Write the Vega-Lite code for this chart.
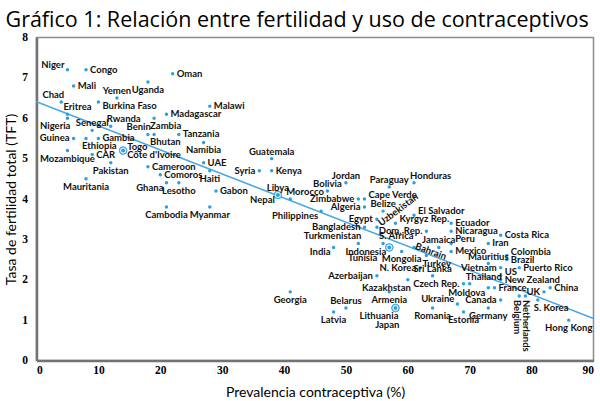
{
  "$schema": "https://vega.github.io/schema/vega-lite/v6.json",
  "autosize": "none",
  "width": 557,
  "height": 323,
  "padding": {"left": 36.5, "top": 37.5, "right": 6.5, "bottom": 40.5},
  "background": "white",
  "title": {
    "text": "Gráfico 1: Relación entre fertilidad y uso de contraceptivos",
    "anchor": "start",
    "frame": "group",
    "dx": -31,
    "dy": 30,
    "offset": 13,
    "baseline": "alphabetic",
    "font": "Open Sans",
    "fontSize": 21.5,
    "fontWeight": "normal",
    "color": "#000000"
  },
  "config": {
    "view": {"stroke": "#8c8c8c", "strokeWidth": 1.5},
    "axis": {
      "grid": false,
      "ticks": false,
      "domainColor": "#737373",
      "domainWidth": 2.5,
      "labelFont": "Liberation Serif",
      "labelFontWeight": "bold",
      "labelFontSize": 11.5,
      "labelColor": "#000000",
      "titleFont": "Lato",
      "titleFontSize": 14,
      "titleFontWeight": "normal",
      "titleColor": "#000000"
    },
    "text": {"font": "Lato", "fontWeight": "bold", "fontSize": 9.5, "color": "#111111", "baseline": "middle"}
  },
  "datasets": {
    "pts": [
      {"c": "Niger", "x": 5, "y": 7.2, "p": "lu"},
      {"c": "Congo", "x": 8, "y": 7.2, "p": "r"},
      {"c": "Oman", "x": 22, "y": 7.1, "p": "r"},
      {"c": "Uganda", "x": 18, "y": 6.9, "p": "b"},
      {"c": "Mali", "x": 6, "y": 6.8, "p": "r"},
      {"c": "Yemen", "x": 13, "y": 6.5, "p": "t"},
      {"c": "Chad", "x": 4, "y": 6.4, "p": "tl"},
      {"c": "Burkina Faso", "x": 10, "y": 6.4, "p": "rd"},
      {"c": "Malawi", "x": 28, "y": 6.3, "p": "r"},
      {"c": "Eritrea", "x": 5, "y": 6.1, "p": "tr"},
      {"c": "Nigeria", "x": 5, "y": 6.0, "p": "bl"},
      {"c": "Madagascar", "x": 21, "y": 6.1, "p": "r"},
      {"c": "Zambia", "x": 19, "y": 6.0, "p": "br"},
      {"c": "Rwanda", "x": 12, "y": 5.8, "p": "tr"},
      {"c": "Senegal", "x": 9, "y": 5.7, "p": "t"},
      {"c": "Benin", "x": 18, "y": 5.6, "p": "tl"},
      {"c": "Bhutan", "x": 19, "y": 5.6, "p": "br"},
      {"c": "Tanzania", "x": 23, "y": 5.6, "p": "r"},
      {"c": "Guinea", "x": 6, "y": 5.5, "p": "l"},
      {"c": "Ethiopia", "x": 8, "y": 5.5, "p": "br"},
      {"c": "Gambia", "x": 10, "y": 5.5, "p": "r"},
      {"c": "Namibia", "x": 27, "y": 5.4, "p": "b"},
      {"c": "Togo", "x": 14, "y": 5.2, "p": "ru"},
      {"c": "Côte d'Ivoire", "x": 14, "y": 5.2, "p": "rd"},
      {"c": "Mozambique", "x": 5, "y": 5.2, "p": "b"},
      {"c": "CAR", "x": 9, "y": 5.1, "p": "r"},
      {"c": "Guatemala", "x": 38, "y": 5.0, "p": "t"},
      {"c": "UAE", "x": 27, "y": 4.9, "p": "r"},
      {"c": "Pakistan", "x": 12, "y": 4.9, "p": "b"},
      {"c": "Cameroon", "x": 18, "y": 4.8, "p": "r"},
      {"c": "Syria", "x": 36, "y": 4.7, "p": "l"},
      {"c": "Kenya", "x": 38, "y": 4.7, "p": "r"},
      {"c": "Haiti", "x": 28, "y": 4.7, "p": "b"},
      {"c": "Comoros", "x": 20, "y": 4.6, "p": "r"},
      {"c": "Mauritania", "x": 8, "y": 4.5, "p": "b"},
      {"c": "Ghana", "x": 21, "y": 4.4, "p": "ld"},
      {"c": "Lesotho", "x": 23, "y": 4.4, "p": "b"},
      {"c": "Gabon", "x": 29, "y": 4.2, "p": "r"},
      {"c": "Libya", "x": 39, "y": 4.1, "p": "t"},
      {"c": "Nepal", "x": 39, "y": 4.1, "p": "ld"},
      {"c": "Morocco", "x": 41, "y": 4.0, "p": "tr"},
      {"c": "Cambodia", "x": 21, "y": 3.8, "p": "b"},
      {"c": "Myanmar", "x": 28, "y": 3.8, "p": "b"},
      {"c": "Georgia", "x": 41, "y": 1.7, "p": "b"},
      {"c": "Jordan", "x": 50, "y": 4.4, "p": "t"},
      {"c": "Paraguay", "x": 57, "y": 4.3, "p": "t"},
      {"c": "Honduras", "x": 61, "y": 4.4, "p": "tr"},
      {"c": "Bolivia", "x": 47, "y": 4.2, "p": "t"},
      {"c": "Zimbabwe", "x": 52, "y": 4.0, "p": "l"},
      {"c": "Cape Verde", "x": 53, "y": 4.0, "p": "ru"},
      {"c": "Philippines", "x": 46, "y": 3.7, "p": "ld"},
      {"c": "Algeria", "x": 53, "y": 3.8, "p": "l"},
      {"c": "Belize", "x": 56, "y": 3.7, "p": "t"},
      {"c": "El Salvador", "x": 61, "y": 3.6, "p": "ru"},
      {"c": "Egypt", "x": 55, "y": 3.5, "p": "l"},
      {"c": "Uzbekistan", "x": 55, "y": 3.3, "p": "up"},
      {"c": "Kyrgyz Rep.", "x": 58, "y": 3.4, "p": "ru"},
      {"c": "Ecuador", "x": 67, "y": 3.4, "p": "r"},
      {"c": "Bangladesh", "x": 53, "y": 3.3, "p": "l"},
      {"c": "Dom. Rep.", "x": 63, "y": 3.2, "p": "l"},
      {"c": "Nicaragua", "x": 67, "y": 3.2, "p": "r"},
      {"c": "Turkmenistan", "x": 52, "y": 2.9, "p": "tl"},
      {"c": "S. Africa", "x": 56, "y": 2.9, "p": "tr"},
      {"c": "India", "x": 48, "y": 2.8, "p": "ld"},
      {"c": "Indonesia", "x": 57, "y": 2.8, "p": "ld"},
      {"c": "Tunisia", "x": 57, "y": 2.8, "p": "ldd"},
      {"c": "Mongolia", "x": 59, "y": 2.7, "p": "b"},
      {"c": "Bahrain", "x": 61, "y": 2.8, "p": "down"},
      {"c": "Jamaica", "x": 65, "y": 2.8, "p": "t"},
      {"c": "Turkey", "x": 63, "y": 2.6, "p": "br"},
      {"c": "Mexico", "x": 67, "y": 2.7, "p": "r"},
      {"c": "Peru", "x": 67, "y": 2.9, "p": "ru"},
      {"c": "Costa Rica", "x": 75, "y": 3.1, "p": "r"},
      {"c": "Iran", "x": 73, "y": 2.9, "p": "r"},
      {"c": "Colombia", "x": 76, "y": 2.6, "p": "ru"},
      {"c": "Brazil", "x": 76, "y": 2.5, "p": "r"},
      {"c": "Mauritius", "x": 73, "y": 2.4, "p": "t"},
      {"c": "Vietnam", "x": 75, "y": 2.3, "p": "l"},
      {"c": "Puerto Rico", "x": 78, "y": 2.3, "p": "r"},
      {"c": "US", "x": 75, "y": 2.1, "p": "ru"},
      {"c": "New Zealand", "x": 75, "y": 2.0, "p": "r"},
      {"c": "N. Korea", "x": 62, "y": 2.3, "p": "l"},
      {"c": "Sri Lanka", "x": 64, "y": 2.1, "p": "t"},
      {"c": "Azerbaijan", "x": 55, "y": 2.1, "p": "l"},
      {"c": "Kazakhstan", "x": 60, "y": 2.0, "p": "bl"},
      {"c": "Czech Rep.", "x": 69, "y": 1.9, "p": "l"},
      {"c": "Thailand", "x": 70, "y": 1.9, "p": "tr"},
      {"c": "Moldova", "x": 73, "y": 1.8, "p": "ld"},
      {"c": "France", "x": 74, "y": 1.8, "p": "r"},
      {"c": "Canada", "x": 75, "y": 1.5, "p": "l"},
      {"c": "Ukraine", "x": 68, "y": 1.4, "p": "lu"},
      {"c": "Romania", "x": 64, "y": 1.3, "p": "b"},
      {"c": "Estonia", "x": 69, "y": 1.2, "p": "b"},
      {"c": "Germany", "x": 73, "y": 1.3, "p": "b"},
      {"c": "Belgium", "x": 78, "y": 1.6, "p": "vl"},
      {"c": "Netherlands", "x": 79, "y": 1.6, "p": "vr"},
      {"c": "UK", "x": 82, "y": 1.7, "p": "l"},
      {"c": "China", "x": 83, "y": 1.8, "p": "r"},
      {"c": "S. Korea", "x": 81, "y": 1.5, "p": "br"},
      {"c": "Hong Kong", "x": 86, "y": 1.0, "p": "b"},
      {"c": "Armenia", "x": 57, "y": 1.7, "p": "b"},
      {"c": "Belarus", "x": 50, "y": 1.3, "p": "t"},
      {"c": "Latvia", "x": 48, "y": 1.2, "p": "b"},
      {"c": "Lithuania", "x": 58, "y": 1.3, "p": "bl"},
      {"c": "Japan", "x": 58, "y": 1.3, "p": "bll"}
    ],
    "trend": [
      {"x": 0, "y": 6.41},
      {"x": 90, "y": 1.04}
    ]
  },
  "data": {"name": "pts"},
  "encoding": {
    "x": {
      "field": "x", "type": "quantitative",
      "scale": {"domain": [0, 90], "nice": false},
      "axis": {"values": [0, 10, 20, 30, 40, 50, 60, 70, 80, 90], "labelPadding": 4, "titlePadding": 9, "title": "Prevalencia contraceptiva (%)"}
    },
    "y": {
      "field": "y", "type": "quantitative",
      "scale": {"domain": [0, 8], "nice": false},
      "axis": {"values": [0, 1, 2, 3, 4, 5, 6, 7, 8], "labelPadding": 9, "titlePadding": 3, "title": "Tasa de fertilidad total (TFT)"}
    }
  },
  "layer": [
    {
      "data": {"name": "trend"},
      "mark": {"type": "line", "color": "#4aa8e8", "strokeWidth": 1.5},
      "encoding": {}
    },
    {
      "transform": [
        {"joinaggregate": [{"op": "count", "as": "n"}], "groupby": ["x", "y"]},
        {"filter": "datum.n > 1"}
      ],
      "mark": {"type": "point", "shape": "circle", "size": 55, "filled": true, "fill": "#d7ecfa", "stroke": "#3a9fe0", "strokeWidth": 1, "opacity": 1}
    },
    {
      "mark": {"type": "circle", "size": 12, "color": "#2a9fe3", "opacity": 1}
    },
    {"transform": [{"filter": "datum.p == 'r'"}], "mark": {"type": "text", "align": "left", "dx": 4, "dy": 0}, "encoding": {"text": {"field": "c"}}},
    {"transform": [{"filter": "datum.p == 'ru'"}], "mark": {"type": "text", "align": "left", "dx": 4, "dy": -4}, "encoding": {"text": {"field": "c"}}},
    {"transform": [{"filter": "datum.p == 'rd'"}], "mark": {"type": "text", "align": "left", "dx": 4, "dy": 4}, "encoding": {"text": {"field": "c"}}},
    {"transform": [{"filter": "datum.p == 'l'"}], "mark": {"type": "text", "align": "right", "dx": -4, "dy": 0}, "encoding": {"text": {"field": "c"}}},
    {"transform": [{"filter": "datum.p == 'lu'"}], "mark": {"type": "text", "align": "right", "dx": -3, "dy": -5}, "encoding": {"text": {"field": "c"}}},
    {"transform": [{"filter": "datum.p == 'ld'"}], "mark": {"type": "text", "align": "right", "dx": -3, "dy": 5}, "encoding": {"text": {"field": "c"}}},
    {"transform": [{"filter": "datum.p == 'ldd'"}], "mark": {"type": "text", "align": "right", "dx": -12, "dy": 11}, "encoding": {"text": {"field": "c"}}},
    {"transform": [{"filter": "datum.p == 't'"}], "mark": {"type": "text", "align": "center", "dy": -7}, "encoding": {"text": {"field": "c"}}},
    {"transform": [{"filter": "datum.p == 'b'"}], "mark": {"type": "text", "align": "center", "dy": 8}, "encoding": {"text": {"field": "c"}}},
    {"transform": [{"filter": "datum.p == 'tr'"}], "mark": {"type": "text", "align": "left", "dx": -4, "dy": -7}, "encoding": {"text": {"field": "c"}}},
    {"transform": [{"filter": "datum.p == 'tl'"}], "mark": {"type": "text", "align": "right", "dx": 3, "dy": -7}, "encoding": {"text": {"field": "c"}}},
    {"transform": [{"filter": "datum.p == 'br'"}], "mark": {"type": "text", "align": "left", "dx": -4, "dy": 8}, "encoding": {"text": {"field": "c"}}},
    {"transform": [{"filter": "datum.p == 'bl'"}], "mark": {"type": "text", "align": "right", "dx": 3, "dy": 8}, "encoding": {"text": {"field": "c"}}},
    {"transform": [{"filter": "datum.p == 'bll'"}], "mark": {"type": "text", "align": "right", "dx": 4, "dy": 17}, "encoding": {"text": {"field": "c"}}},
    {"transform": [{"filter": "datum.p == 'up'"}], "mark": {"type": "text", "align": "left", "angle": -37, "dx": 4, "dy": -1}, "encoding": {"text": {"field": "c"}}},
    {"transform": [{"filter": "datum.p == 'down'"}], "mark": {"type": "text", "align": "left", "angle": 20, "dx": 1, "dy": -2}, "encoding": {"text": {"field": "c"}}},
    {"transform": [{"filter": "datum.p == 'vl'"}], "mark": {"type": "text", "align": "left", "angle": 90, "dx": 4, "dy": 2.5}, "encoding": {"text": {"field": "c"}}},
    {"transform": [{"filter": "datum.p == 'vr'"}], "mark": {"type": "text", "align": "left", "angle": 90, "dx": 4, "dy": -0.6}, "encoding": {"text": {"field": "c"}}}
  ]
}
